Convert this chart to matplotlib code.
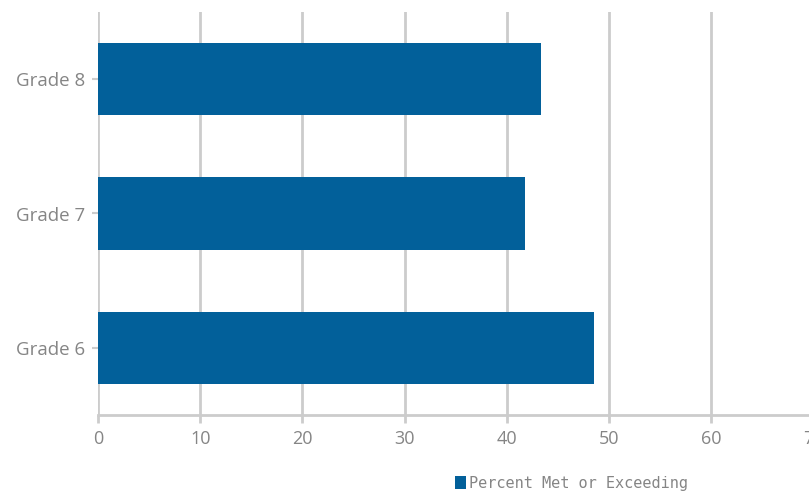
import matplotlib.pyplot as plt

grades = ["Grade 6", "Grade 7", "Grade 8"]
pct_met = [48.5, 41.8, 43.3]
series_name = "Percent Met or Exceeding"
x_ticks = [0, 10, 20, 30, 40, 50, 60, 70]

BAR = "#02609a"
GRID = "#cccccc"
TXT = "#858585"

fig = plt.figure(figsize=(8.09, 4.94), dpi=100)
ax = fig.add_axes([98 / 809, 79 / 494, 715.6 / 809, 403 / 494])

ax.barh(grades, pct_met, height=0.54, color=BAR, label=series_name, zorder=3)

ax.set_xlim(0, 70)
ax.set_ylim(-0.5, 2.5)
ax.set_xticks(x_ticks)
ax.grid(axis="x", color=GRID, linewidth=2, zorder=0)

for s in ["top", "right", "left"]:
    ax.spines[s].set_visible(False)
ax.spines["bottom"].set_color(GRID)
ax.spines["bottom"].set_linewidth(2)

ax.tick_params(axis="x", colors=GRID, length=6, width=2, pad=5,
               labelcolor=TXT, labelsize=13)
ax.tick_params(axis="y", colors=GRID, length=4, width=1.5, pad=5,
               labelcolor=TXT, labelsize=13.5)
for lab in ax.get_xticklabels() + ax.get_yticklabels():
    lab.set_family("Open Sans")

fig.legend(loc="center", bbox_to_anchor=(0.706, 0.022), frameon=False,
           handlelength=0.75, handleheight=0.9, handletextpad=0.15,
           prop={"family": "DejaVu Sans Mono", "size": 11}, labelcolor=TXT)

fig.savefig("out.png", dpi=100)
